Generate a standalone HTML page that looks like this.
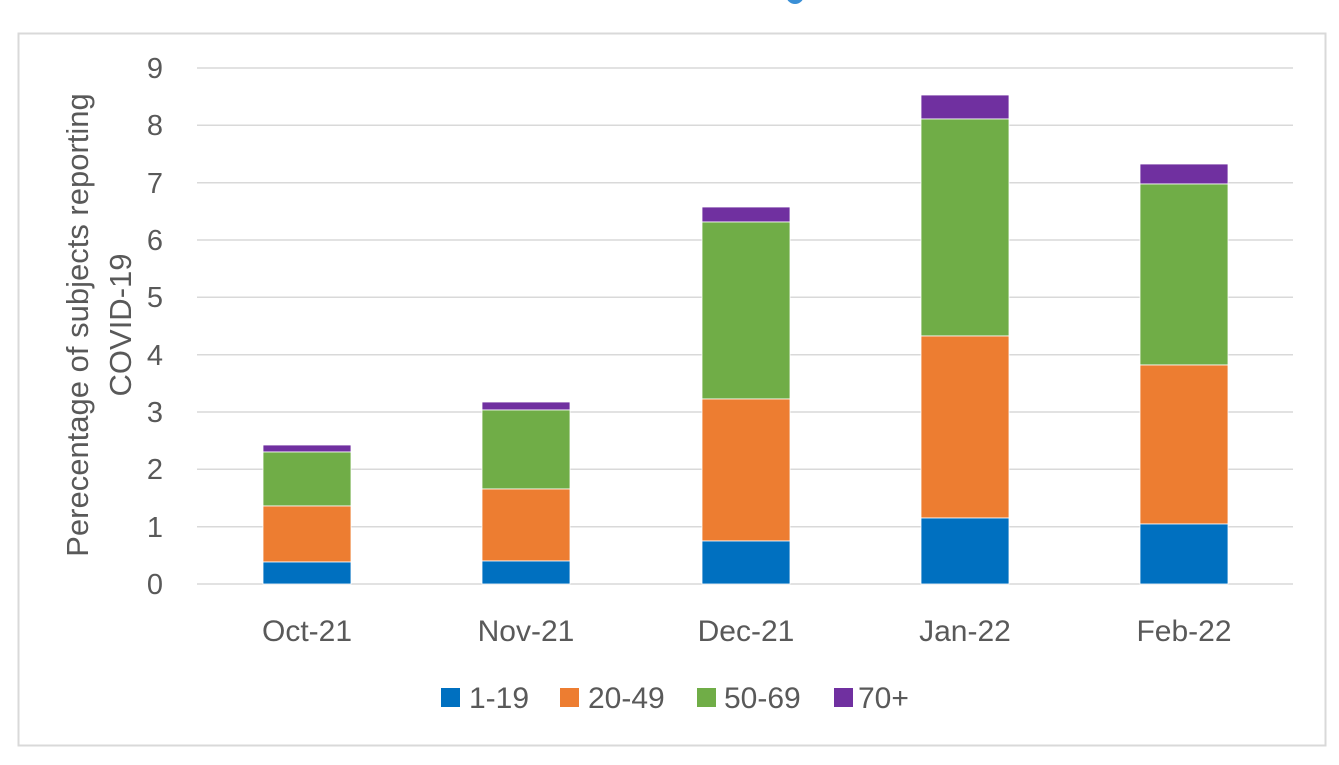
<!DOCTYPE html>
<html><head><style>body{margin:0;background:#fff}</style></head><body>
<svg width="1339" height="760" xmlns="http://www.w3.org/2000/svg" font-family="'Liberation Sans', sans-serif" fill="#595959">
<rect width="1339" height="760" fill="#fff"/>
<circle cx="795" cy="-5" r="9" fill="#3a8fd6"/>
<rect x="18.5" y="33.5" width="1307" height="712" fill="none" stroke="#d9d9d9" stroke-width="2"/>
<g stroke="#d9d9d9" stroke-width="1.5">
<line x1="197" x2="1293" y1="68" y2="68"/><line x1="197" x2="1293" y1="125.3" y2="125.3"/>
<line x1="197" x2="1293" y1="182.7" y2="182.7"/><line x1="197" x2="1293" y1="240" y2="240"/>
<line x1="197" x2="1293" y1="297.3" y2="297.3"/><line x1="197" x2="1293" y1="354.7" y2="354.7"/>
<line x1="197" x2="1293" y1="412" y2="412"/><line x1="197" x2="1293" y1="469.3" y2="469.3"/>
<line x1="197" x2="1293" y1="526.7" y2="526.7"/><line x1="197" x2="1293" y1="584" y2="584"/>
</g>
<g font-size="29" text-anchor="end">
<text x="163" y="78">9</text><text x="163" y="135">8</text><text x="163" y="193">7</text>
<text x="163" y="250">6</text><text x="163" y="307">5</text><text x="163" y="365">4</text>
<text x="163" y="422">3</text><text x="163" y="479">2</text><text x="163" y="537">1</text>
<text x="163" y="594">0</text>
</g>
<g stroke="#fff" stroke-width="0.8">
<rect x="263" y="445" width="88" height="7" fill="#7030A0"/>
<rect x="263" y="452" width="88" height="54" fill="#70AD47"/>
<rect x="263" y="506" width="88" height="56" fill="#ED7D31"/>
<rect x="263" y="562" width="88" height="22" fill="#0070C0"/>
<rect x="482" y="402" width="88" height="8" fill="#7030A0"/>
<rect x="482" y="410" width="88" height="79" fill="#70AD47"/>
<rect x="482" y="489" width="88" height="72" fill="#ED7D31"/>
<rect x="482" y="561" width="88" height="23" fill="#0070C0"/>
<rect x="702" y="207" width="88" height="15" fill="#7030A0"/>
<rect x="702" y="222" width="88" height="177" fill="#70AD47"/>
<rect x="702" y="399" width="88" height="142" fill="#ED7D31"/>
<rect x="702" y="541" width="88" height="43" fill="#0070C0"/>
<rect x="921" y="95" width="88" height="24" fill="#7030A0"/>
<rect x="921" y="119" width="88" height="217" fill="#70AD47"/>
<rect x="921" y="336" width="88" height="182" fill="#ED7D31"/>
<rect x="921" y="518" width="88" height="66" fill="#0070C0"/>
<rect x="1140" y="164" width="88" height="20" fill="#7030A0"/>
<rect x="1140" y="184" width="88" height="181" fill="#70AD47"/>
<rect x="1140" y="365" width="88" height="159" fill="#ED7D31"/>
<rect x="1140" y="524" width="88" height="60" fill="#0070C0"/>
</g>
<g font-size="30" text-anchor="middle">
<text x="307" y="641">Oct-21</text><text x="526" y="641">Nov-21</text>
<text x="746" y="641">Dec-21</text><text x="965" y="641">Jan-22</text>
<text x="1184" y="641">Feb-22</text>
</g>
<g font-size="31" text-anchor="middle">
<text transform="translate(88,325) rotate(-90)">Perecentage of subjects reporting</text>
<text transform="translate(131,325) rotate(-90)">COVID-19</text>
</g>
<g font-size="30">
<rect x="441" y="688" width="19" height="19" fill="#0070C0"/><text x="469" y="708">1-19</text>
<rect x="560" y="688" width="19" height="19" fill="#ED7D31"/><text x="588" y="708">20-49</text>
<rect x="697" y="688" width="19" height="19" fill="#70AD47"/><text x="724" y="708">50-69</text>
<rect x="834" y="688" width="19" height="19" fill="#7030A0"/><text x="858" y="708">70+</text>
</g>
</svg>
</body></html>
